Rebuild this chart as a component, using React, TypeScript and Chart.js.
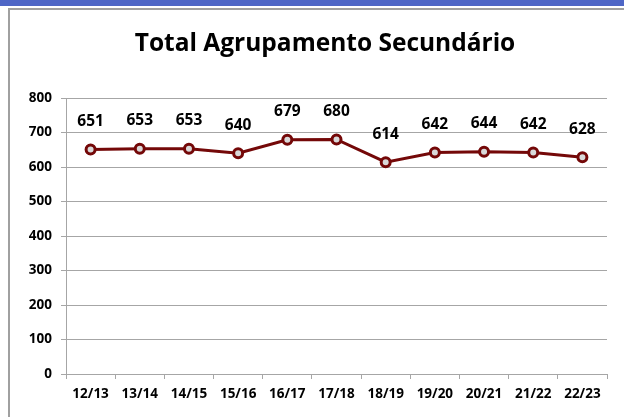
import React, { useEffect, useRef } from "react";
import { Chart, registerables } from "chart.js";

Chart.register(...registerables);

const categories = ["12/13", "13/14", "14/15", "15/16", "16/17", "17/18", "18/19", "19/20", "20/21", "21/22", "22/23"];
const totals = [651, 653, 653, 640, 679, 680, 614, 642, 644, 642, 628];
const yTicks = [0, 100, 200, 300, 400, 500, 600, 700, 800];
const titleText = "Total Agrupamento Secundário";

const FONT = "'Open Sans', sans-serif";
const GRID = "#A6A6A6";
const LINE = "#740808";

const labelPlugin = {
  id: "valueLabels",
  afterDatasetsDraw(chart: any) {
    const ctx = chart.ctx;
    const meta = chart.getDatasetMeta(0);
    ctx.save();
    ctx.font = `bold 15.5px ${FONT}`;
    ctx.fillStyle = "#000";
    ctx.textAlign = "center";
    ctx.textBaseline = "middle";
    meta.data.forEach((pt: any, i: number) => {
      ctx.fillText(String(totals[i]), pt.x, pt.y - 28);
    });
    ctx.restore();
  },
};

export default function App() {
  const ref = useRef<HTMLCanvasElement>(null);
  useEffect(() => {
    if (!ref.current) return;
    const chart = new Chart(ref.current, {
      type: "line",
      data: {
        labels: categories,
        datasets: [
          {
            data: totals,
            borderColor: LINE,
            borderWidth: 3,
            backgroundColor: "#D9D9D9",
            pointBackgroundColor: "#D9D9D9",
            pointBorderColor: LINE,
            pointBorderWidth: 3,
            pointRadius: 4.5,
            tension: 0,
          },
        ],
      },
      options: {
        animation: false,
        responsive: false,
        layout: { padding: 0 },
        plugins: {
          legend: { display: false },
          tooltip: { enabled: false },
          title: {
            display: true,
            text: titleText,
            color: "#000",
            font: { family: FONT, size: 24.5, weight: "bold", lineHeight: 1.2 },
            padding: { top: 19.3, bottom: 39.3 },
          },
        },
        scales: {
          x: {
            offset: true,
            grid: { offset: true, drawOnChartArea: false, color: GRID, tickLength: 5, lineWidth: 1 },
            border: { color: GRID, width: 1 },
            ticks: { color: "#000", font: { family: FONT, size: 13.5, weight: "bold" }, padding: 7, maxRotation: 0, autoSkip: false },
            afterFit(scale: any) {
              scale.height = 43;
            },
          },
          y: {
            min: 0,
            max: 800,
            afterBuildTicks(scale: any) {
              scale.ticks = yTicks.map((v) => ({ value: v }));
            },
            grid: { color: GRID, tickLength: 5, lineWidth: 1 },
            border: { color: GRID, width: 1 },
            ticks: { color: "#000", font: { family: FONT, size: 13.5, weight: "bold" }, padding: 9 },
            afterFit(scale: any) {
              scale.width = 56;
            },
          },
          spacer: {
            type: "linear",
            position: "right",
            display: true,
            grid: { display: false, drawTicks: false },
            border: { display: false },
            ticks: { display: false },
            afterFit(scale: any) {
              scale.width = 33;
            },
          },
        },
      },
      plugins: [labelPlugin],
    });
    return () => chart.destroy();
  }, []);

  return (
    <div style={{ position: "absolute", left: 0, top: 0, width: 624, height: 417, background: "#fff", overflow: "hidden" }}>
      <div style={{ position: "absolute", left: 0, top: 0, width: 624, height: 6, background: "#4E66C6" }} />
      <div
        style={{
          position: "absolute",
          left: 8,
          top: 8,
          width: 616,
          height: 409,
          borderTop: "2px solid #A0A0A0",
          borderLeft: "2px solid #A0A0A0",
          boxSizing: "border-box",
        }}
      />
      <canvas ref={ref} width={630} height={407} style={{ position: "absolute", left: 10, top: 10, width: 630, height: 407 }} />
    </div>
  );
}
